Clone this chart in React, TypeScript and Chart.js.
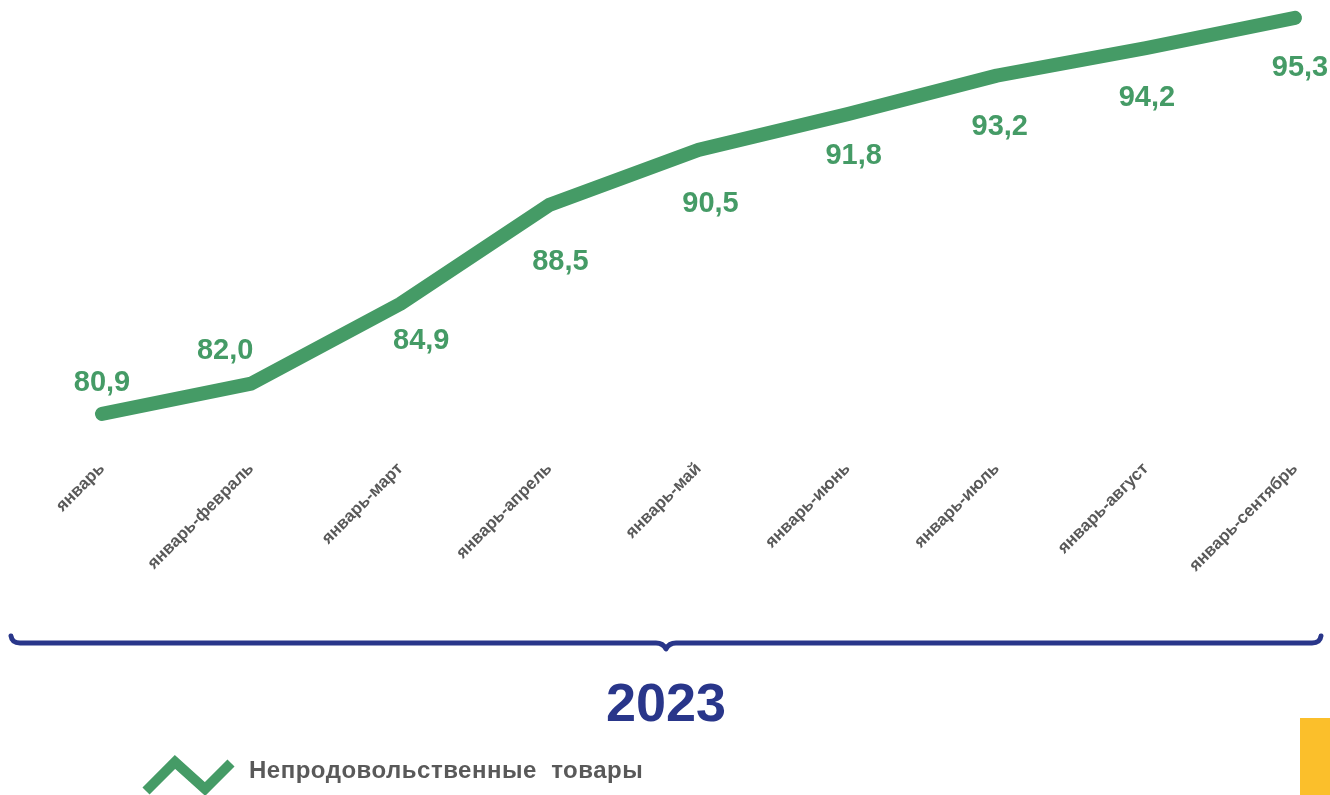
import React, { useEffect, useRef } from "react";
import { Chart, registerables } from "chart.js";

Chart.register(...registerables);

const categories = [
  "январь",
  "январь-февраль",
  "январь-март",
  "январь-апрель",
  "январь-май",
  "январь-июнь",
  "январь-июль",
  "январь-август",
  "январь-сентябрь",
];
const values = [80.9, 82.0, 84.9, 88.5, 90.5, 91.8, 93.2, 94.2, 95.3];
const seriesName = "Непродовольственные  товары";
const yearLabel = "2023";

// label placement offsets (dx, dy) relative to each point
const labelOffsets: [number, number][] = [
  [0, -33], [-26, -35], [21, 35], [11, 55], [12, 52], [6, 39], [3, 49], [1, 47], [5, 48],
];

const GREEN = "#459B66";
const NAVY = "#29368A";
const GRAY = "#595959";
const YELLOW = "#FBBF2B";
const FONT = '"Liberation Sans", Arial, sans-serif';

const decorPlugin = {
  id: "decor",
  afterDatasetsDraw(chart: any) {
    const ctx = chart.ctx as CanvasRenderingContext2D;
    const xs = chart.scales.x;
    const ys = chart.scales.y;
    ctx.save();

    // data labels
    ctx.fillStyle = GREEN;
    ctx.font = `bold 29px ${FONT}`;
    ctx.textAlign = "center";
    ctx.textBaseline = "alphabetic";
    values.forEach((v, i) => {
      const x = xs.getPixelForValue(i);
      const y = ys.getPixelForValue(v);
      const [dx, dy] = labelOffsets[i];
      ctx.fillText(v.toFixed(1).replace(".", ","), x + dx, y + dy + 10.5);
    });

    // rotated category labels
    ctx.fillStyle = GRAY;
    ctx.font = `bold 17px ${FONT}`;
    ctx.textAlign = "right";
    ctx.textBaseline = "middle";
    categories.forEach((c, i) => {
      const x = xs.getPixelForValue(i);
      ctx.save();
      ctx.translate(x, 466);
      ctx.rotate(-Math.PI / 4);
      ctx.fillText(c, 0, 0);
      ctx.restore();
    });

    // brace
    ctx.strokeStyle = NAVY;
    ctx.lineWidth = 5;
    ctx.lineCap = "round";
    ctx.lineJoin = "round";
    ctx.beginPath();
    ctx.moveTo(11, 636);
    ctx.quadraticCurveTo(12, 643, 20, 643);
    ctx.lineTo(656, 643);
    ctx.quadraticCurveTo(663, 643, 666, 649);
    ctx.quadraticCurveTo(669, 643, 676, 643);
    ctx.lineTo(1312, 643);
    ctx.quadraticCurveTo(1320, 643, 1321, 636);
    ctx.stroke();

    // year
    ctx.fillStyle = NAVY;
    ctx.font = `bold 54px ${FONT}`;
    ctx.textAlign = "center";
    ctx.textBaseline = "alphabetic";
    ctx.fillText(yearLabel, 666, 721);

    // legend icon
    ctx.strokeStyle = GREEN;
    ctx.lineWidth = 10;
    ctx.lineCap = "butt";
    ctx.lineJoin = "miter";
    ctx.beginPath();
    ctx.moveTo(146, 791);
    ctx.lineTo(175, 762);
    ctx.lineTo(205, 789);
    ctx.lineTo(231, 763);
    ctx.stroke();

    // legend text
    ctx.fillStyle = GRAY;
    ctx.font = `bold 24px ${FONT}`;
    ctx.textAlign = "left";
    (ctx as any).letterSpacing = "0.5px";
    ctx.fillText(seriesName, 249, 778);
    (ctx as any).letterSpacing = "0px";

    // yellow block
    ctx.fillStyle = YELLOW;
    ctx.fillRect(1300, 718, 30, 77);

    ctx.restore();
  },
};

export default function App() {
  const ref = useRef<HTMLCanvasElement | null>(null);

  useEffect(() => {
    document.body.style.margin = "0";
    document.body.style.overflow = "hidden";
    if (!ref.current) return;
    const chart = new Chart(ref.current, {
      type: "line",
      data: {
        labels: categories,
        datasets: [
          {
            label: seriesName,
            data: values,
            borderColor: GREEN,
            backgroundColor: GREEN,
            borderWidth: 14,
            borderCapStyle: "round",
            borderJoinStyle: "round",
            pointRadius: 0,
            pointHoverRadius: 0,
            tension: 0,
            fill: false,
            clip: false as any,
          },
        ],
      },
      options: {
        responsive: false,
        animation: false,
        layout: { padding: { left: 102, right: 35, top: 0, bottom: 355 } },
        scales: {
          x: { display: false, offset: false },
          y: { display: false, min: 79.95, max: 95.95 },
        },
        plugins: {
          legend: { display: false },
          tooltip: { enabled: false },
        },
      },
      plugins: [decorPlugin],
    });
    return () => chart.destroy();
  }, []);

  return (
    <div style={{ width: 1330, height: 795, background: "#fff" }}>
      <canvas ref={ref} width={1330} height={795} style={{ display: "block" }} />
    </div>
  );
}
